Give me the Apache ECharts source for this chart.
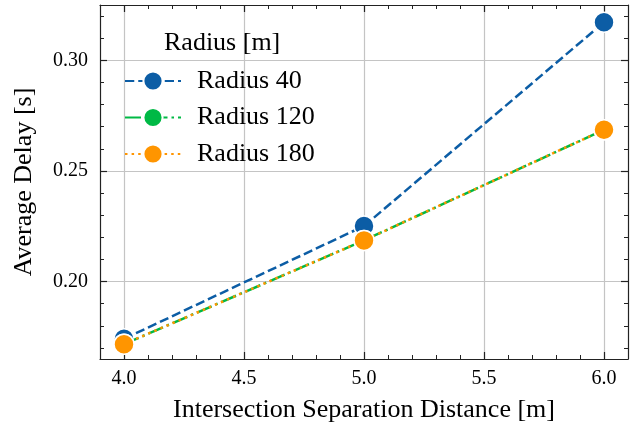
<!DOCTYPE html>
<html>
<head>
<meta charset="utf-8">
<script src="https://cdn.jsdelivr.net/npm/echarts@6/dist/echarts.min.js"></script>
<style>html,body{margin:0;padding:0;background:#fff}#c{width:638px;height:426px}</style>
</head>
<body>
<div id="c"></div>
<script>
const xValues = [4.0, 5.0, 6.0];
const radius40 = [0.1741, 0.2251, 0.3172];
const radius120 = [0.1717, 0.2186, 0.2686];
const radius180 = [0.1717, 0.2186, 0.2686];
const seriesNames = ['Radius 40', 'Radius 120', 'Radius 180'];
const xTicks = [4.0, 4.5, 5.0, 5.5, 6.0];
const yTicks = [0.20, 0.25, 0.30];

const FONT = '"Liberation Serif", "DejaVu Serif", serif';
const frame = { show: true, onZero: false, lineStyle: { color: '#222', width: 1.2 } };

function pairs(ys) { return xValues.map((x, i) => [x, ys[i]]); }

function xAxis(pos, main) {
  return {
    type: 'value', position: pos, min: 3.9, max: 6.1, splitNumber: 4,
    axisLine: frame,
    axisTick: { show: true, inside: true, length: 7, customValues: xTicks, lineStyle: { color: '#222', width: 1.2 } },
    minorTick: { show: true, splitNumber: 5, length: 4, lineStyle: { color: '#222', width: 1 } },
    axisLabel: main ? { show: true, customValues: xTicks, margin: 10, fontFamily: FONT, fontSize: 20, color: '#000', formatter: v => Number(v).toFixed(1) } : { show: false },
    splitLine: main ? { show: true, lineStyle: { color: '#c4c4c4', width: 1.2 } } : { show: false },
    name: main ? 'Intersection Separation Distance [m]' : '',
    nameLocation: 'middle', nameGap: 38,
    nameTextStyle: { fontFamily: FONT, fontSize: 26, color: '#000' }
  };
}
function yAxis(pos, main) {
  return {
    type: 'value', position: pos, min: 0.165, max: 0.325, splitNumber: 3,
    axisLine: frame,
    axisTick: { show: true, inside: true, length: 7, customValues: yTicks, lineStyle: { color: '#222', width: 1.2 } },
    minorTick: { show: true, splitNumber: 5, length: 4, lineStyle: { color: '#222', width: 1 } },
    axisLabel: main ? { show: true, customValues: yTicks, margin: 12, fontFamily: FONT, fontSize: 20, color: '#000', formatter: v => Number(v).toFixed(2) } : { show: false },
    splitLine: main ? { show: true, lineStyle: { color: '#c4c4c4', width: 1.2 } } : { show: false },
    name: main ? 'Average Delay [s]' : '',
    nameLocation: 'middle', nameGap: 63,
    nameTextStyle: { fontFamily: FONT, fontSize: 26, color: '#000' }
  };
}

const colors = ['#0C5DA5', '#00B945', '#FF9500'];
const dashes = [[9.25, 4], [16, 4, 2.5, 4], [2.5, 4.1]];
const datas = [radius40, radius120, radius180];

const option = {
  animation: false,
  backgroundColor: '#fff',
  grid: { left: 100, right: 10, top: 5, bottom: 67, containLabel: false, outerBoundsMode: 'none' },
  title: {
    text: 'Radius [m]', left: 159, top: 25,
    textStyle: { fontFamily: FONT, fontSize: 26, fontWeight: 'normal', color: '#000' }
  },
  legend: {
    left: 119, top: 63, orient: 'vertical',
    itemWidth: 56, itemHeight: 24, itemGap: 10.5,
    data: seriesNames,
    textStyle: { fontFamily: FONT, fontSize: 26, color: '#000', lineHeight: 26, padding: [0, 0, 0, 11] }
  },
  xAxis: [xAxis('bottom', true), xAxis('top', false)],
  yAxis: [yAxis('left', true), yAxis('right', false)],
  series: seriesNames.map((n, i) => ({
    name: n, type: 'line', xAxisIndex: 0, yAxisIndex: 0,
    data: pairs(datas[i]),
    color: colors[i],
    lineStyle: { color: colors[i], width: 2.5, type: dashes[i] },
    symbol: 'circle', symbolSize: 20,
    itemStyle: { color: colors[i], borderColor: '#fff', borderWidth: 1.5 },
    z: 2 + i
  }))
};

const chart = echarts.init(document.getElementById('c'), null, { renderer: 'canvas' });
chart.setOption(option);
</script>
</body>
</html>
